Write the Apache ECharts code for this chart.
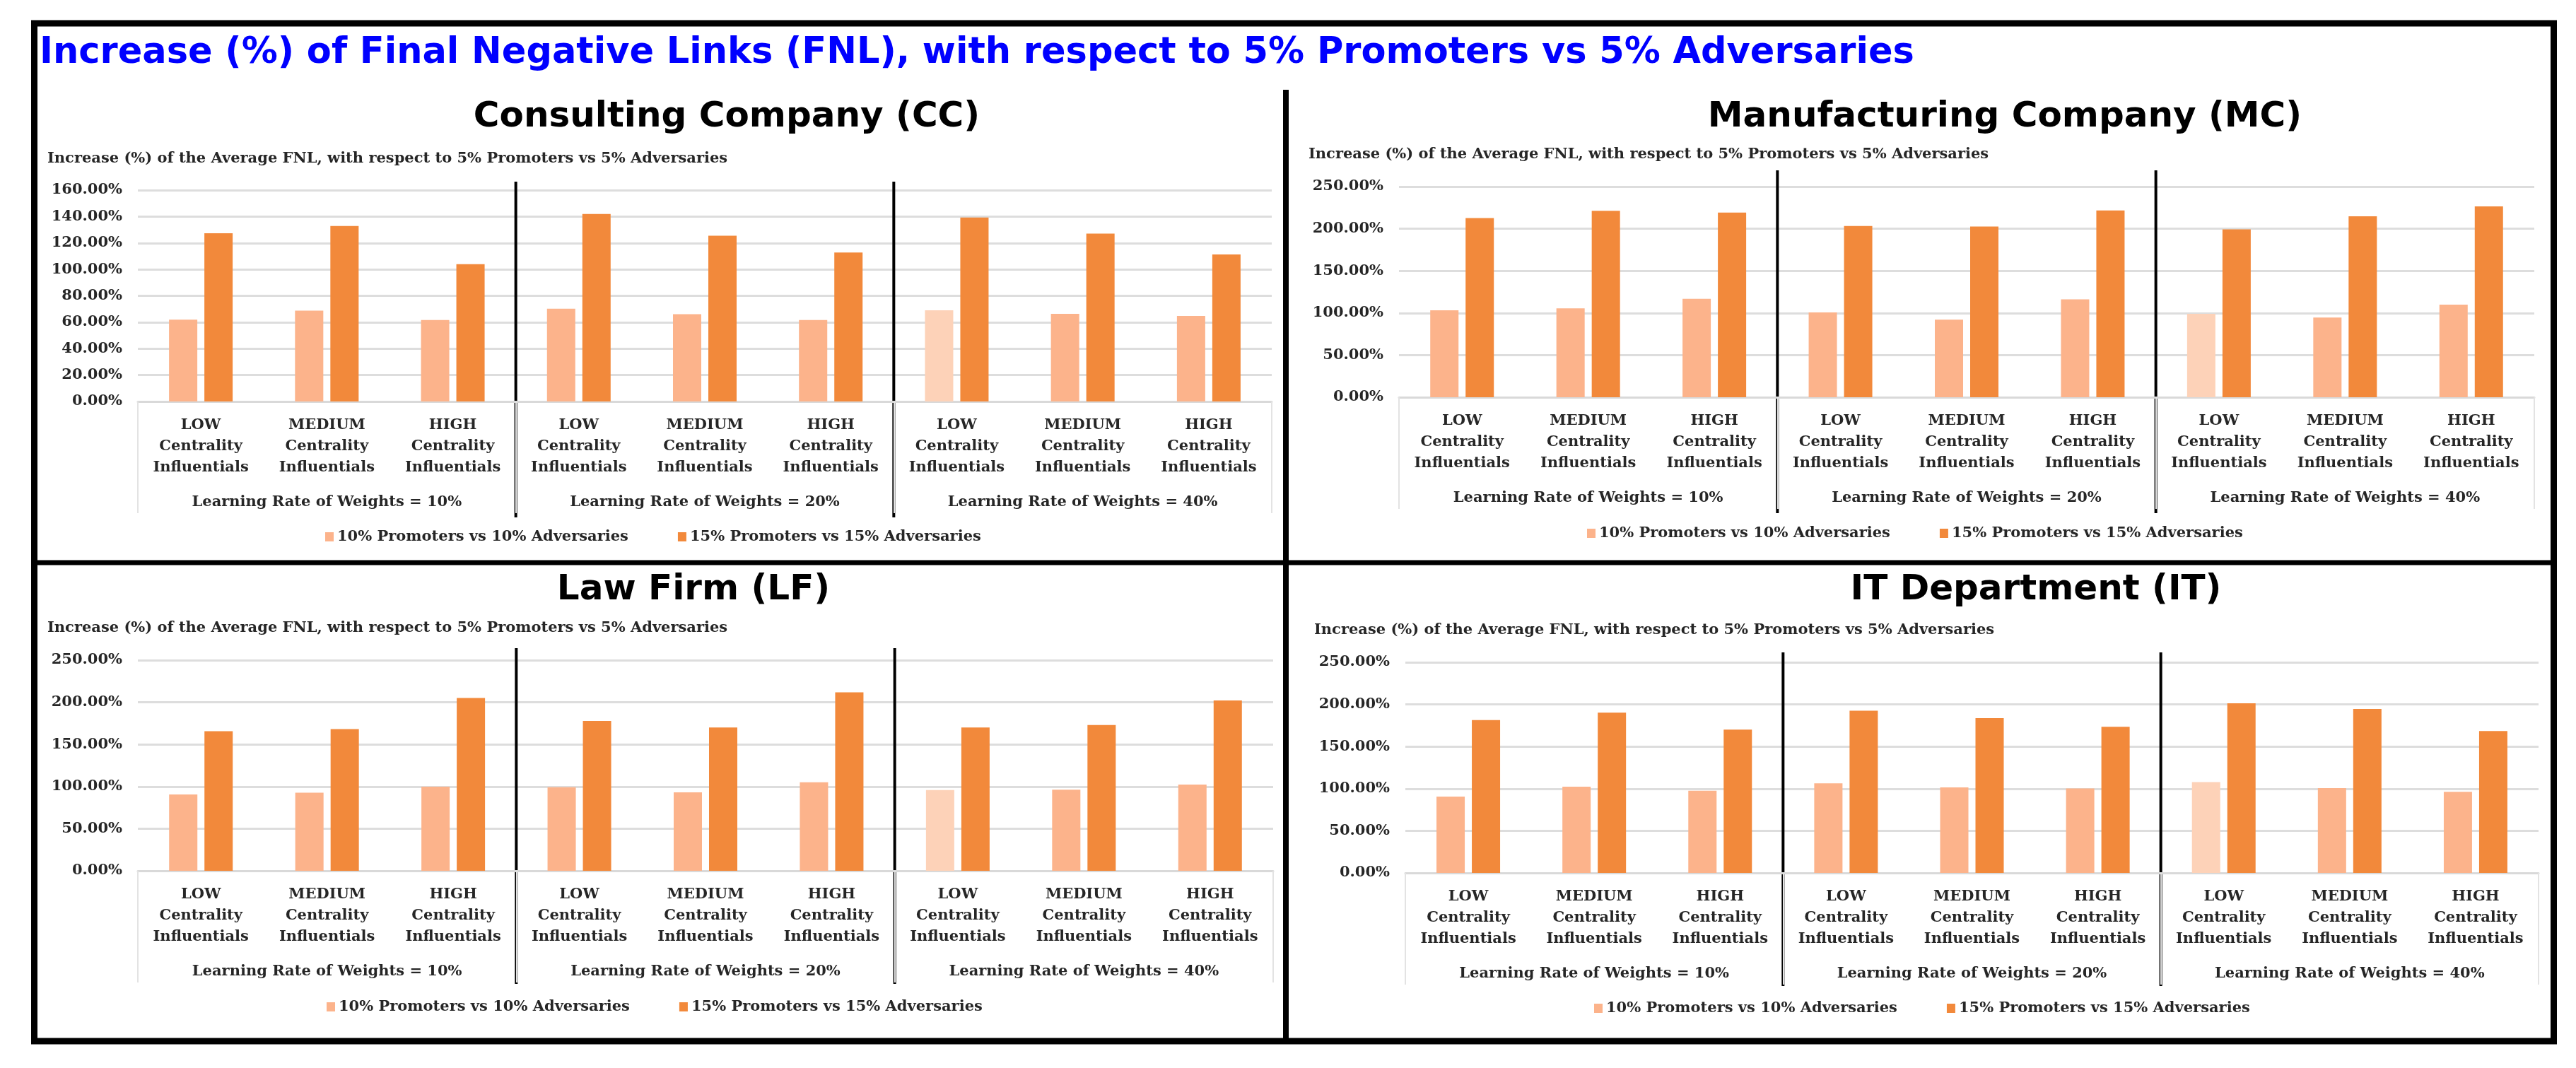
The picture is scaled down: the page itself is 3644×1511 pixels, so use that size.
<!DOCTYPE html>
<html>
<head>
<meta charset="utf-8">
<title>Increase (%) of Final Negative Links (FNL)</title>
<style>
html, body { margin: 0; padding: 0; background: #fff; }
#main { width: 3644px; height: 1511px; }
</style>
<script src="https://cdn.jsdelivr.net/npm/echarts@6.0.0/dist/echarts.min.js"></script>
</head>
<body>
<div id="main"></div>
<script>
// categories
var levels = ['LOW', 'MEDIUM', 'HIGH'];
var groups = ['Learning Rate of Weights = 10%', 'Learning Rate of Weights = 20%', 'Learning Rate of Weights = 40%'];
var seriesNames = ['10% Promoters vs 10% Adversaries', '15% Promoters vs 15% Adversaries'];

// Consulting Company (CC), values in %
var ccPromo10 = [62.0, 68.7, 61.7, 70.3, 66.1, 61.7, 69.0, 66.4, 64.8];
var ccPromo15 = [127.3, 132.8, 104.0, 141.9, 125.5, 112.8, 139.2, 127.1, 111.3];
// Manufacturing Company (MC)
var mcPromo10 = [103.1, 105.5, 116.9, 100.6, 92.1, 116.1, 99.0, 94.6, 110.0];
var mcPromo15 = [212.7, 221.2, 219.2, 203.3, 202.5, 221.6, 199.3, 214.7, 226.5];
// Law Firm (LF)
var lfPromo10 = [90.7, 92.7, 99.9, 99.1, 93.1, 105.1, 95.9, 96.3, 102.3];
var lfPromo15 = [165.7, 168.1, 205.1, 177.8, 170.1, 211.9, 170.1, 173.0, 202.2];
// IT Department (IT)
var itPromo10 = [90.7, 102.3, 97.5, 106.3, 101.5, 100.3, 107.9, 100.7, 96.3];
var itPromo15 = [181.4, 190.2, 170.1, 192.6, 183.8, 173.4, 201.4, 194.6, 168.5];

// y axis ticks
var ccAxis = {max: 160, step: 20};
var otherAxis = {max: 250, step: 50};

var categories = [];
groups.forEach(function (g) {
	levels.forEach(function (l) {
		categories.push(l + '\nCentrality\nInfluentials');
	});
});

var LIGHT = '#FCB38B';
var PALE = '#FDD2B8';
var DARK = '#F2893B';
var TEXT = '#262626';
var SERIF = 'DejaVu Serif';
var SANS = 'DejaVu Sans';

var panels = [
	{title: 'Consulting Company (CC)', d10: ccPromo10, d15: ccPromo15, axis: ccAxis,
		grid: {left: 195, top: 269, width: 1604, height: 299},
		titleX: 1028, titleY: 166, subX: 67, subY: 225, legendX: 455, legendY: 756, sepTop: 257, sepBottom: 732},
	{title: 'Manufacturing Company (MC)', d10: mcPromo10, d15: mcPromo15, axis: otherAxis,
		grid: {left: 1979, top: 264, width: 1606, height: 298},
		titleX: 2836, titleY: 166, subX: 1851, subY: 219, legendX: 2240, legendY: 751, sepTop: 241, sepBottom: 726},
	{title: 'Law Firm (LF)', d10: lfPromo10, d15: lfPromo15, axis: otherAxis,
		grid: {left: 195, top: 934, width: 1606, height: 298},
		titleX: 981, titleY: 835, subX: 67, subY: 889, legendX: 457, legendY: 1421, sepTop: 917, sepBottom: 1392},
	{title: 'IT Department (IT)', d10: itPromo10, d15: itPromo15, axis: otherAxis,
		grid: {left: 1988, top: 937, width: 1603, height: 298},
		titleX: 2880, titleY: 835, subX: 1859, subY: 892, legendX: 2250, legendY: 1423, sepTop: 923, sepBottom: 1395}
];

var labelFont = {fontFamily: SERIF, fontWeight: 'bold', fontSize: 21, color: TEXT};

var grids = [], xAxes = [], yAxes = [], series = [], legends = [], graphics = [];

panels.forEach(function (p, i) {
	grids.push(p.grid);
	xAxes.push({
		gridIndex: i,
		type: 'category',
		data: categories,
		axisLine: {lineStyle: {color: '#D9D9D9', width: 3}},
		axisTick: {show: false},
		axisLabel: Object.assign({interval: 0, margin: 19, lineHeight: 30}, labelFont)
	});
	// second level of the category axis
	xAxes.push({
		gridIndex: i,
		type: 'category',
		position: 'bottom',
		data: groups,
		axisLine: {show: false},
		axisTick: {show: true, length: 158, lineStyle: {color: '#E3E3E3', width: 2}},
		axisLabel: Object.assign({interval: 0, margin: 128, lineHeight: 30}, labelFont)
	});
	yAxes.push({
		gridIndex: i,
		type: 'value',
		min: 0,
		max: p.axis.max,
		interval: p.axis.step,
		axisLine: {show: false},
		axisTick: {show: false},
		splitLine: {lineStyle: {color: '#DDDDDD', width: 3}},
		axisLabel: Object.assign({margin: 22, formatter: function (v) { return v.toFixed(2) + '%'; }}, labelFont)
	});
	series.push({
		name: seriesNames[0],
		type: 'bar',
		xAxisIndex: 2 * i,
		yAxisIndex: i,
		barWidth: 40,
		barGap: '25%',
		itemStyle: {color: LIGHT},
		// first bar of the 40% group is drawn paler in the original
		data: p.d10.map(function (v, k) {
			return k === 6 ? {value: v, itemStyle: {color: PALE}} : v;
		})
	});
	series.push({
		name: seriesNames[1],
		type: 'bar',
		xAxisIndex: 2 * i,
		yAxisIndex: i,
		barWidth: 40,
		barGap: '25%',
		itemStyle: {color: DARK},
		data: p.d15
	});
	legends.push({
		data: seriesNames,
		left: p.legendX,
		top: p.legendY - 12,
		icon: 'rect',
		itemWidth: 12,
		itemHeight: 13,
		itemGap: 70,
		selectedMode: false,
		textStyle: labelFont
	});
	graphics.push({
		type: 'text', x: p.titleX, y: p.titleY,
		style: {text: p.title, align: 'center', verticalAlign: 'middle', font: 'bold 50px "' + SANS + '"', fill: '#000'}
	});
	graphics.push({
		type: 'text', x: p.subX, y: p.subY,
		style: {text: 'Increase (%) of the Average FNL, with respect to 5% Promoters vs 5% Adversaries',
			align: 'left', verticalAlign: 'middle', font: 'bold 21px "' + SERIF + '"', fill: TEXT}
	});
});

// frame and dividers
graphics.push({type: 'rect', shape: {x: 48.5, y: 33, width: 3564, height: 1440}, style: {fill: null, stroke: '#000', lineWidth: 9}});
graphics.push({type: 'line', shape: {x1: 1819, y1: 127, x2: 1819, y2: 1472}, style: {stroke: '#000', lineWidth: 8}});
graphics.push({type: 'line', shape: {x1: 48, y1: 796, x2: 3612, y2: 796}, style: {stroke: '#000', lineWidth: 7}});
graphics.push({
	type: 'text', x: 56, y: 76,
	style: {text: 'Increase (%) of Final Negative Links (FNL), with respect to 5% Promoters vs 5% Adversaries',
		align: 'left', verticalAlign: 'middle', font: 'bold 51px "' + SANS + '"', fill: '#0000FF'}
});

var chart = echarts.init(document.getElementById('main'));
chart.setOption({
	animation: false,
	grid: grids,
	xAxis: xAxes,
	yAxis: yAxes,
	series: series,
	legend: legends
});

// black separators between the learning rate groups
panels.forEach(function (p, i) {
	[2, 5].forEach(function (k) {
		var x0 = chart.convertToPixel({xAxisIndex: 2 * i}, k);
		var x1 = chart.convertToPixel({xAxisIndex: 2 * i}, k + 1);
		var x = (x0 + x1) / 2;
		graphics.push({type: 'line', shape: {x1: x, y1: p.sepTop, x2: x, y2: p.sepBottom}, style: {stroke: '#000', lineWidth: 4}});
	});
});

chart.setOption({graphic: graphics});
</script>
</body>
</html>
